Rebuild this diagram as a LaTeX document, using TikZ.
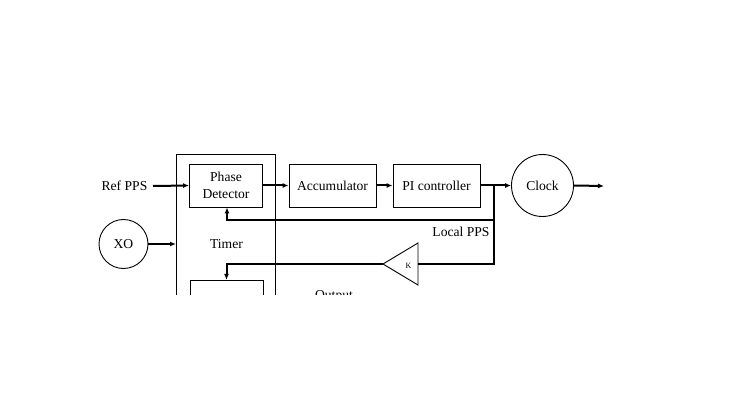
\documentclass[tikz,border=0pt]{standalone}
\usepackage{fontspec}
\setmainfont{Liberation Serif}
\usetikzlibrary{arrows.meta}
\begin{document}
\begin{tikzpicture}[x=1pt,y=-1pt,
  blk/.style={draw,line width=0.9pt,inner sep=0pt,font=\fontsize{13.6}{16.5}\selectfont,align=center},
  circ/.style={draw,line width=0.9pt,circle,inner sep=0pt,font=\fontsize{13.6}{15}\selectfont},
  lbl/.style={font=\fontsize{13.6}{15}\selectfont,inner sep=0pt},
  wire/.style={line width=2pt,-{Latex[length=6pt,width=5pt]}},
  plain/.style={line width=2pt}]
\useasboundingbox (0,0) rectangle (734,414);
\begin{scope}
\clip (0,0) rectangle (734,295);
% Timer box
\node[draw,line width=0.7pt,minimum width=99pt,minimum height=200pt,anchor=north west,inner sep=0pt] (timer) at (176,154) {};
\node[lbl] (timerlbl) at (226.5,244) {Timer};
% Phase detector
\node[blk,minimum width=73pt,minimum height=43pt] (pd) at (226,185.5) {Phase\\Detector};
\node[blk,minimum width=87pt,minimum height=43pt] (acc) at (332.5,185.5) {Accumulator};
\node[blk,minimum width=87pt,minimum height=43pt] (pi) at (436.5,185.5) {PI controller};
\node[circ,minimum size=62pt] (clk) at (542.5,185.5) {Clock};
\node[circ,minimum size=49pt] (xo) at (123.5,244) {XO};
\node[lbl] (ref) at (124.5,186) {Ref PPS};
\node[lbl] (lpps) at (461,231.5) {Local PPS};
% lower box
\node[draw,line width=0.9pt,minimum width=73pt,minimum height=40pt,anchor=north west,inner sep=0pt] (out) at (189.5,280) {};
\node[lbl,anchor=base] (outlbl) at (334,300) {Output};
% triangle K
\coordinate (tapex) at (383,264);
\coordinate (ttop) at (418,243);
\coordinate (tbot) at (418,285);
\draw[line width=0.9pt] (tapex) -- (ttop) -- (tbot) -- cycle;
\node[font=\fontsize{8}{9}\selectfont,inner sep=0pt] (k) at (408.5,266) {K};
\coordinate (tright) at (418,264);
% coordinates
\coordinate (refs) at (153,186);
\coordinate (j1) at (494,186);
\coordinate (j2) at (494,220.5);
\coordinate (j3) at (494,264);
\coordinate (c1) at (227,220.5);
\coordinate (c2) at (226.5,264);
\coordinate (clkout) at (604,186);
% wires
\draw[wire] (refs) -- (pd.west);
\draw[wire] (xo.east) -- (xo.east -| timer.west);
\draw[wire] (pd.east) -- (acc.west);
\draw[wire] (acc.east) -- (pi.west);
\draw[wire] (pi.east) -- (clk.west);
\draw[wire] (clk.east) -- (clkout);
\draw[plain] (j1) -- (j3) -- (tright);
\draw[wire] (j2) -- (c1) -- (c1 |- pd.south);
\draw[wire] (tapex) -- (c2) -- (c2 |- out.north);
\end{scope}
\end{tikzpicture}
\end{document}
